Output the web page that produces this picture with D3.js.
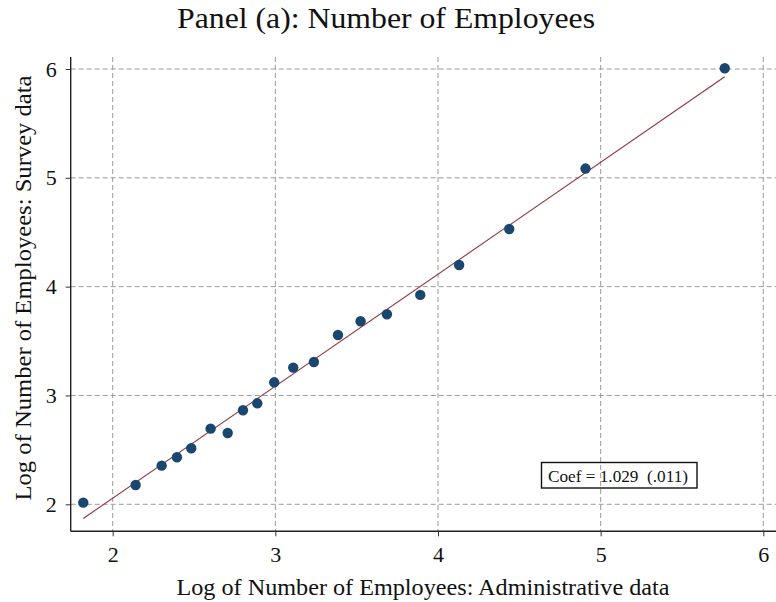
<!DOCTYPE html>
<html>
<head>
<meta charset="utf-8">
<script src="https://cdn.jsdelivr.net/npm/d3@7"></script>
<style>
  html, body { margin: 0; padding: 0; background: #fff; }
  svg { display: block; font-family: "Liberation Serif", "Times New Roman", serif; }
</style>
</head>
<body>
<svg id="chart" width="776" height="602"></svg>
<script>
// ---- Data ----
const xAdmin = [1.819, 2.141, 2.301, 2.395, 2.483, 2.602, 2.707, 2.801, 2.889, 2.993,
                3.110, 3.237, 3.385, 3.524, 3.686, 3.891, 4.130, 4.438, 4.907, 5.763];
const ySurvey = [2.015, 2.177, 2.355, 2.432, 2.515, 2.695, 2.655, 2.864, 2.928, 3.121,
                 3.256, 3.308, 3.556, 3.682, 3.746, 3.924, 4.199, 4.530, 5.085, 6.007];
const xTicks = [2, 3, 4, 5, 6];
const yTicks = [2, 3, 4, 5, 6];
const fitSlope = 1.029;
const fitIntercept = -0.002;
const coefLabel = "Coef = 1.029  (.011)";
const titleText = "Panel (a): Number of Employees";
const xTitle = "Log of Number of Employees: Administrative data";
const yTitle = "Log of Number of Employees: Survey data";

// ---- Layout ----
const svg = d3.select("#chart");
const plotLeft = 70.7, plotRight = 776, plotTop = 57, plotBottom = 531.3;

const x = d3.scaleLinear().domain([2, 6]).range([112.7, 763.3]);
const y = d3.scaleLinear().domain([2, 6]).range([504.3, 69]);

const gridColor = "#9a9a9a";

// grid lines
svg.append("g").selectAll("line.hg").data(yTicks).join("line")
  .attr("x1", plotLeft).attr("x2", plotRight)
  .attr("y1", d => y(d)).attr("y2", d => y(d))
  .attr("stroke", gridColor).attr("stroke-width", 1).attr("stroke-dasharray", "5,3");
svg.append("g").selectAll("line.vg").data(xTicks).join("line")
  .attr("x1", d => x(d)).attr("x2", d => x(d))
  .attr("y1", plotTop).attr("y2", plotBottom)
  .attr("stroke", gridColor).attr("stroke-width", 1).attr("stroke-dasharray", "5,3");

// axes
const xAxis = d3.axisBottom(x).tickValues(xTicks).tickSize(5).tickPadding(10).tickFormat(d3.format("d"));
const yAxis = d3.axisLeft(y).tickValues(yTicks).tickSize(5).tickPadding(9).tickFormat(d3.format("d"));

const gx = svg.append("g").attr("transform", `translate(0,${plotBottom})`).call(xAxis);
gx.select(".domain").remove();
gx.selectAll(".tick line").attr("stroke", "#333");
gx.selectAll(".tick text").attr("font-family", "Liberation Serif, serif")
  .attr("font-size", 22).attr("fill", "#111").attr("dy", "0.71em");

const gy = svg.append("g").attr("transform", `translate(${plotLeft},0)`).call(yAxis);
gy.select(".domain").remove();
gy.selectAll(".tick line").attr("stroke", "#333");
gy.selectAll(".tick text").attr("font-family", "Liberation Serif, serif")
  .attr("font-size", 22).attr("fill", "#111");

svg.append("line").attr("x1", plotLeft).attr("x2", plotRight)
  .attr("y1", plotBottom).attr("y2", plotBottom).attr("stroke", "#222").attr("stroke-width", 1.4);
svg.append("line").attr("x1", plotLeft).attr("x2", plotLeft)
  .attr("y1", plotTop).attr("y2", plotBottom).attr("stroke", "#222").attr("stroke-width", 1.4);

// fit line
const xMin = d3.min(xAdmin), xMax = d3.max(xAdmin);
svg.append("line")
  .attr("x1", x(xMin)).attr("y1", y(fitIntercept + fitSlope * xMin))
  .attr("x2", x(xMax)).attr("y2", y(fitIntercept + fitSlope * xMax))
  .attr("stroke", "#90353b").attr("stroke-width", 1.1);

// points
svg.append("g").selectAll("circle").data(xAdmin.map((v, i) => [v, ySurvey[i]])).join("circle")
  .attr("cx", d => x(d[0])).attr("cy", d => y(d[1])).attr("r", 5.2)
  .attr("fill", "#1a476f");

// coef box
svg.append("rect").attr("x", 541.5).attr("y", 462.5).attr("width", 155.5).attr("height", 25.5)
  .attr("fill", "none").attr("stroke", "#111").attr("stroke-width", 1.4);
svg.append("text").attr("x", 548).attr("y", 482).attr("font-size", 17)
  .attr("fill", "#111").style("white-space", "pre").attr("textLength", 140).attr("lengthAdjust", "spacingAndGlyphs")
  .text(coefLabel);

// titles
svg.append("text").attr("x", 386).attr("y", 28).attr("text-anchor", "middle")
  .attr("font-size", 30).attr("fill", "#111")
  .attr("textLength", 418).attr("lengthAdjust", "spacingAndGlyphs")
  .text(titleText);

svg.append("text").attr("x", 423).attr("y", 595).attr("text-anchor", "middle")
  .attr("font-size", 23).attr("fill", "#111")
  .attr("textLength", 493).attr("lengthAdjust", "spacingAndGlyphs")
  .text(xTitle);

svg.append("text").attr("transform", "translate(31,288) rotate(-90)").attr("text-anchor", "middle")
  .attr("font-size", 23).attr("fill", "#111")
  .attr("textLength", 425).attr("lengthAdjust", "spacingAndGlyphs")
  .text(yTitle);
</script>
</body>
</html>
